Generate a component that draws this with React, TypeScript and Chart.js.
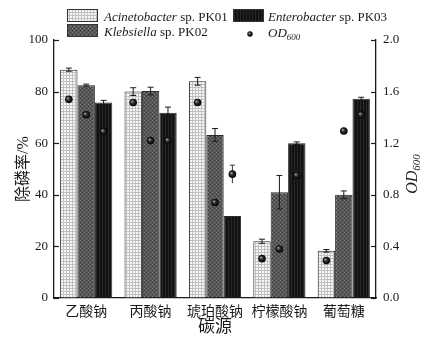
import React, { useEffect, useRef } from 'react';
import { Chart, registerables } from 'chart.js';

Chart.register(...registerables);

const categories = ['乙酸钠', '丙酸钠', '琥珀酸钠', '柠檬酸钠', '葡萄糖'];
const strainItalic = ['Acinetobacter', 'Klebsiella', 'Enterobacter'];
const strainSuffix = [' sp. PK01', ' sp. PK02', ' sp. PK03'];

const removalPK01 = [88.5, 80.0, 84.0, 22.0, 18.3];
const removalPK02 = [82.5, 80.2, 63.2, 41.0, 40.0];
const removalPK03 = [75.8, 71.8, 31.8, 60.0, 77.2];
const errPK01 = [0.6, 1.5, 1.5, 0.8, 0.5];
const errPK02 = [0.4, 1.5, 2.5, 6.5, 1.5];
const errPK03 = [0.8, 2.2, 0, 0.5, 0.6];

const odPK01 = [1.54, 1.515, 1.515, 0.305, 0.29];
const odPK02 = [1.42, 1.22, 0.74, 0.38, 1.295];
const odPK03 = [1.29, 1.22, 0.96, 0.95, 1.42];
const odErrPK01 = [0, 0, 0, 0, 0];
const odErrPK02 = [0, 0, 0, 0, 0];
const odErrPK03 = [0, 0, 0.07, 0, 0];

const removalSeries = [removalPK01, removalPK02, removalPK03];
const removalErr = [errPK01, errPK02, errPK03];
const odSeries = [odPK01, odPK02, odPK03];
const odErr = [odErrPK01, odErrPK02, odErrPK03];

const FONT = "'Liberation Serif', 'Noto Sans CJK SC', serif";
const INK = '#1a1a1a';

function makePattern(kind: number): CanvasPattern | string {
  const c = document.createElement('canvas');
  const ctx = c.getContext('2d');
  if (!ctx) return '#888';
  if (kind === 0) {
    c.width = 3; c.height = 3;
    ctx.fillStyle = '#f7f7f7';
    ctx.fillRect(0, 0, 3, 3);
    ctx.fillStyle = '#c0c0c0';
    ctx.fillRect(0, 0, 3, 1);
    ctx.fillRect(0, 0, 1, 3);
  } else if (kind === 1) {
    c.width = 4; c.height = 4;
    ctx.fillStyle = '#575757';
    ctx.fillRect(0, 0, 4, 4);
    ctx.fillStyle = '#7c7c7c';
    ctx.fillRect(0, 0, 1, 1);
    ctx.fillRect(2, 2, 1, 1);
    ctx.fillStyle = '#3e3e3e';
    ctx.fillRect(2, 0, 1, 1);
    ctx.fillRect(0, 2, 1, 1);
  } else {
    c.width = 3; c.height = 3;
    ctx.fillStyle = '#121212';
    ctx.fillRect(0, 0, 3, 3);
    ctx.fillStyle = '#272727';
    ctx.fillRect(0, 0, 1, 3);
  }
  const p = ctx.createPattern(c, 'repeat');
  return p || '#888';
}

function drawDot(ctx: CanvasRenderingContext2D, x: number, y: number, r: number) {
  const g = ctx.createRadialGradient(x - r * 0.35, y - r * 0.35, 0.2, x, y, r);
  g.addColorStop(0, '#a0a0a0');
  g.addColorStop(0.45, '#2a2a2a');
  g.addColorStop(1, '#000');
  ctx.beginPath();
  ctx.arc(x, y, r, 0, Math.PI * 2);
  ctx.fillStyle = g;
  ctx.fill();
}

export default function App() {
  const ref = useRef<HTMLCanvasElement | null>(null);

  useEffect(() => {
    const canvas = ref.current;
    if (!canvas) return;
    const patterns = [makePattern(0), makePattern(1), makePattern(2)];

    const overlay = {
      id: 'overlay',
      afterDatasetsDraw(chart: any) {
        const ctx: CanvasRenderingContext2D = chart.ctx;
        const y = chart.scales.y;
        const y1 = chart.scales.y1;
        ctx.save();
        ctx.strokeStyle = INK;
        ctx.lineWidth = 1;
        removalSeries.forEach((vals, i) => {
          const meta = chart.getDatasetMeta(i);
          vals.forEach((v, j) => {
            const e = removalErr[i][j];
            if (!e) return;
            const bx = meta.data[j].x;
            const top = y.getPixelForValue(v + e);
            const bot = y.getPixelForValue(v - e);
            ctx.beginPath();
            ctx.moveTo(bx, top); ctx.lineTo(bx, bot);
            ctx.moveTo(bx - 3, top); ctx.lineTo(bx + 3, top);
            ctx.moveTo(bx - 3, bot); ctx.lineTo(bx + 3, bot);
            ctx.stroke();
          });
        });
        odSeries.forEach((vals, i) => {
          const meta = chart.getDatasetMeta(i);
          vals.forEach((v, j) => {
            const bx = meta.data[j].x;
            const py = y1.getPixelForValue(v);
            const e = odErr[i][j];
            if (e) {
              const t = y1.getPixelForValue(v + e);
              const b = y1.getPixelForValue(v - e);
              ctx.strokeStyle = '#333';
              ctx.beginPath();
              ctx.moveTo(bx, t); ctx.lineTo(bx, b);
              ctx.moveTo(bx - 2.5, t); ctx.lineTo(bx + 2.5, t);
              ctx.stroke();
            }
            drawDot(ctx, bx, py, 3.8);
          });
        });
        ctx.strokeStyle = INK;
        ctx.lineWidth = 1.2;
        const ca = chart.chartArea;
        y.ticks.forEach((t: any) => {
          const p = Math.round(y.getPixelForValue(t.value)) + 0.5;
          ctx.beginPath();
          ctx.moveTo(ca.left, p); ctx.lineTo(ca.left + 5, p);
          ctx.stroke();
        });
        y1.ticks.forEach((t: any) => {
          const p = Math.round(y1.getPixelForValue(t.value)) + 0.5;
          ctx.beginPath();
          ctx.moveTo(ca.right, p); ctx.lineTo(ca.right - 5, p);
          ctx.stroke();
        });
        ctx.restore();
      },
      afterDraw(chart: any) {
        const ctx: CanvasRenderingContext2D = chart.ctx;
        ctx.save();
        const items = [
          { x: 67, y: 9, tx: 104, by: 21, kind: 0 },
          { x: 67, y: 24, tx: 104, by: 36, kind: 1 },
          { x: 233, y: 9, tx: 268, by: 21, kind: 2 },
        ];
        ctx.textBaseline = 'alphabetic';
        items.forEach((it) => {
          ctx.fillStyle = patterns[it.kind] as any;
          ctx.fillRect(it.x, it.y, 31, 13);
          ctx.strokeStyle = '#333';
          ctx.lineWidth = 1;
          ctx.strokeRect(it.x + 0.5, it.y + 0.5, 30, 12);
          ctx.fillStyle = INK;
          ctx.font = `italic 13px ${FONT}`;
          ctx.fillText(strainItalic[it.kind], it.tx, it.by);
          const w = ctx.measureText(strainItalic[it.kind]).width;
          ctx.font = `13px ${FONT}`;
          ctx.fillText(strainSuffix[it.kind], it.tx + w, it.by);
        });
        drawDot(ctx, 250, 34, 2.7);
        ctx.fillStyle = INK;
        ctx.font = `italic 13px ${FONT}`;
        ctx.fillText('OD', 268, 37);
        const wod = ctx.measureText('OD').width;
        ctx.font = `italic 9px ${FONT}`;
        ctx.fillText('600', 268 + wod, 40);

        ctx.translate(413, 174);
        ctx.rotate(-Math.PI / 2);
        ctx.font = `italic 16px ${FONT}`;
        const w1 = ctx.measureText('OD').width;
        ctx.font = `italic 11px ${FONT}`;
        const w2 = ctx.measureText('600').width;
        const sx = -(w1 + w2) / 2;
        ctx.textBaseline = 'middle';
        ctx.font = `italic 16px ${FONT}`;
        ctx.fillText('OD', sx, 0);
        ctx.font = `italic 11px ${FONT}`;
        ctx.fillText('600', sx + w1, 4);
        ctx.restore();
      },
    };

    const chart = new Chart(canvas, {
      type: 'bar',
      data: {
        labels: categories,
        datasets: removalSeries.map((vals, i) => ({
          label: strainItalic[i] + strainSuffix[i],
          data: vals,
          backgroundColor: patterns[i] as any,
          borderColor: '#2a2a2a',
          borderWidth: 1,
          categoryPercentage: 0.81,
          barPercentage: 1.0,
          yAxisID: 'y',
        })),
      },
      options: {
        responsive: false,
        animation: false,
        layout: { padding: { top: 40, left: 0, right: 0, bottom: 0 } },
        plugins: {
          legend: { display: false },
          tooltip: { enabled: false },
        },
        scales: {
          x: {
            grid: { display: false, drawTicks: false },
            border: { display: true, color: INK, width: 1.3 },
            ticks: { color: INK, font: { family: FONT, size: 14 }, padding: 6 },
            title: {
              display: true,
              text: '碳源',
              color: INK,
              font: { family: FONT, size: 17 },
              padding: { top: 0, bottom: 0 },
            },
            afterFit: (s: any) => { s.height = 40; },
          },
          y: {
            position: 'left',
            min: 0,
            max: 100,
            grid: { drawOnChartArea: false, drawTicks: false },
            border: { display: true, color: INK, width: 1.3 },
            ticks: { stepSize: 20, color: INK, font: { family: FONT, size: 13 }, padding: 6 },
            title: {
              display: true,
              text: '除磷率/%',
              color: INK,
              font: { family: FONT, size: 16 },
              padding: { top: 14, bottom: 0 },
            },
            afterFit: (s: any) => { s.width = 54; },
          },
          y1: {
            position: 'right',
            min: 0,
            max: 2,
            grid: { drawOnChartArea: false, drawTicks: false },
            border: { display: true, color: INK, width: 1.3 },
            ticks: {
              stepSize: 0.4,
              color: INK,
              font: { family: FONT, size: 13 },
              padding: 7,
              callback: (v: any) => Number(v).toFixed(1),
            },
            afterFit: (s: any) => { s.width = 46; },
          },
        },
      },
      plugins: [overlay],
    });

    return () => chart.destroy();
  }, []);

  return (
    <div style={{ position: 'fixed', left: 0, top: 0, width: 422, height: 338, background: '#fff' }}>
      <canvas ref={ref} width={422} height={338} style={{ width: 422, height: 338, display: 'block' }} />
    </div>
  );
}
